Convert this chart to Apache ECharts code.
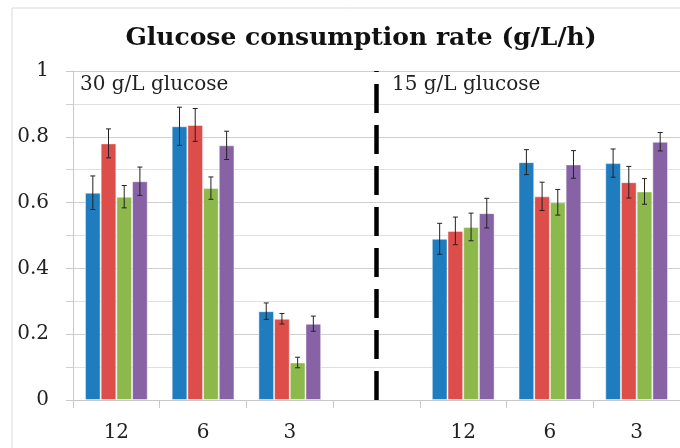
<!DOCTYPE html>
<html>
<head>
<meta charset="utf-8">
<script src="https://cdn.jsdelivr.net/npm/echarts@6/dist/echarts.min.js"></script>
<style>
  html, body { margin: 0; padding: 0; background: #fff; }
  #chart { width: 680px; height: 448px; }
</style>
</head>
<body>
<div id="chart"></div>
<script>
const categories = ["12", "6", "3", "", "12", "6", "3"];

// mean rate per condition, index 3 is the empty spacer slot
const blue = [0.63, 0.832, 0.27, null, 0.49, 0.723, 0.72];
const red = [0.78, 0.836, 0.247, null, 0.514, 0.619, 0.662];
const green = [0.618, 0.644, 0.114, null, 0.526, 0.601, 0.634];
const purple = [0.665, 0.774, 0.232, null, 0.568, 0.716, 0.785];

// +/- error
const blueErr = [0.051, 0.058, 0.025, null, 0.047, 0.038, 0.043];
const redErr = [0.044, 0.05, 0.016, null, 0.042, 0.043, 0.048];
const greenErr = [0.034, 0.034, 0.016, null, 0.042, 0.039, 0.039];
const purpleErr = [0.043, 0.043, 0.023, null, 0.045, 0.042, 0.028];

const groupLabels = ["30 g/L glucose", "15 g/L glucose"];

const colors = ["#1f7dbf", "#dd4d4a", "#8db84b", "#8763a6"];
const serif = "DejaVu Serif";
const CAT_GAP = 0.276;

const chart = echarts.init(document.getElementById("chart"));

const groups = [
  { name: "A", values: blue, err: blueErr },
  { name: "B", values: red, err: redErr },
  { name: "C", values: green, err: greenErr },
  { name: "D", values: purple, err: purpleErr },
];

const barSeries = groups.map((g, k) => ({
  type: "bar",
  name: g.name,
  data: g.values,
  barGap: 0,
  barCategoryGap: CAT_GAP * 100 + "%",
  itemStyle: {
    color: colors[k],
    borderColor: "rgba(255,255,255,0.45)",
    borderWidth: 1,
  },
  z: 2,
}));

// error bars drawn over each bar
const errSeries = groups.map((g, k) => ({
  type: "custom",
  name: g.name + " err",
  z: 5,
  silent: true,
  data: g.values
    .map((v, i) => (v == null ? null : [i, v - g.err[i], v + g.err[i]]))
    .filter((d) => d),
  renderItem(params, api) {
    const band = api.size([1, 0])[0];
    const barW = (band * (1 - CAT_GAP)) / 4;
    const idx = api.value(0);
    const lo = api.coord([idx, api.value(1)]);
    const hi = api.coord([idx, api.value(2)]);
    const x = lo[0] + (k - 1.5) * barW;
    const cap = 2.5;
    const style = { stroke: "#222", lineWidth: 1 };
    return {
      type: "group",
      children: [
        { type: "line", shape: { x1: x, y1: lo[1], x2: x, y2: hi[1] }, style },
        { type: "line", shape: { x1: x - cap, y1: hi[1], x2: x + cap, y2: hi[1] }, style },
        { type: "line", shape: { x1: x - cap, y1: lo[1], x2: x + cap, y2: lo[1] }, style },
      ],
    };
  },
}));

// divider between the two glucose levels (on a custom series so it sits at the category centre)
errSeries[0].markLine = {
  silent: true,
  symbol: "none",
  label: { show: false },
  lineStyle: { color: "#000", width: 4.5, type: [29, 12] },
  data: [{ xAxis: 3 }],
};

chart.setOption({
  animation: false,
  title: {
    text: "Glucose consumption rate (g/L/h)",
    left: 356,
    top: 21,
    textAlign: "center",
    textStyle: { fontFamily: serif, fontSize: 25, fontWeight: "bold", color: "#111" },
  },
  graphic: [
    {
      type: "rect",
      shape: { x: 12, y: 8, width: 700, height: 470 },
      style: { fill: "none", stroke: "#d9d9d9", lineWidth: 1 },
      silent: true,
    },
    {
      type: "text",
      left: 80,
      top: 75,
      style: { text: groupLabels[0], font: "20px " + serif, fill: "#222" },
    },
    {
      type: "text",
      left: 392,
      top: 75,
      style: { text: groupLabels[1], font: "20px " + serif, fill: "#222" },
    },
  ],
  grid: { left: 73, right: 0, top: 71, bottom: 48, containLabel: false },
  xAxis: {
    type: "category",
    data: categories,
    axisLine: { lineStyle: { color: "#c8c8c8" } },
    axisTick: { show: true, length: 8, lineStyle: { color: "#c8c8c8" } },
    axisLabel: { fontFamily: serif, fontSize: 20, color: "#222", margin: 23 },
  },
  yAxis: {
    type: "value",
    min: 0,
    max: 1,
    interval: 0.2,
    axisLine: { show: true, lineStyle: { color: "#c8c8c8" } },
    axisTick: { show: true, length: 7, lineStyle: { color: "#c8c8c8" } },
    minorTick: { show: true, splitNumber: 2, length: 7, lineStyle: { color: "#d0d0d0" } },
    splitLine: { lineStyle: { color: "#cfcfcf" } },
    minorSplitLine: { show: true, lineStyle: { color: "#e0e0e0" } },
    axisLabel: {
      fontFamily: serif,
      fontSize: 20,
      color: "#222",
      margin: 24,
      formatter: (v) => (v === 0 || v === 1 ? String(v) : v.toFixed(1)),
    },
  },
  series: [...barSeries, ...errSeries],
});
</script>
</body>
</html>
